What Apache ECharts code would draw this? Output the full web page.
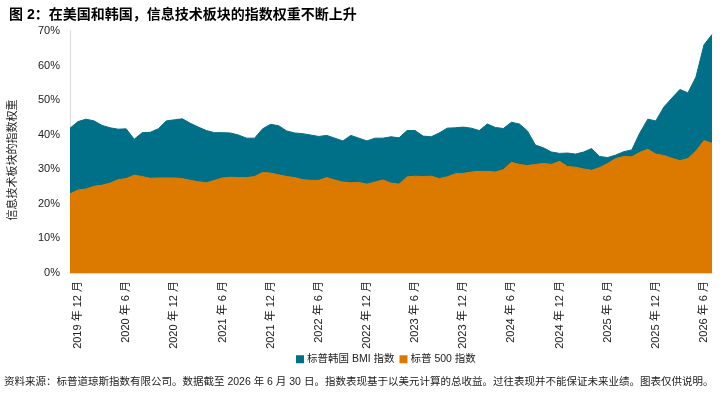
<!DOCTYPE html>
<html>
<head>
<meta charset="utf-8">
<script src="https://cdn.jsdelivr.net/npm/echarts@6/dist/echarts.min.js"></script>
<style>
  html, body { margin: 0; padding: 0; background: #fff; }
  #chart { width: 728px; height: 399px; }
</style>
</head>
<body>
<div id="chart"></div>
<script>
// monthly points, Nov 2019 .. Jul 2026
var startYear = 2019, startMonth = 11, pointCount = 81;
var months = [];
for (var i = 0; i < pointCount; i++) {
  var m = startMonth - 1 + i;
  months.push((startYear + Math.floor(m / 12)) + ' 年 ' + (m % 12 + 1) + ' 月');
}

var koreaBmi = [
  41.9, 43.8, 44.5, 44.0, 42.7, 42.0, 41.6, 41.7, 38.7, 40.6,
  40.7, 41.7, 44.0, 44.3, 44.6, 43.3, 42.2, 41.2, 40.6, 40.6,
  40.5, 39.9, 39.0, 39.0, 41.7, 43.0, 42.6, 41.1, 40.5, 40.3,
  39.9, 39.5, 39.8, 39.0, 38.2, 39.8, 39.0, 38.2, 39.0, 39.0,
  39.4, 39.1, 41.2, 41.2, 39.6, 39.4, 40.5, 41.9, 42.0, 42.2,
  41.9, 41.2, 43.1, 42.1, 41.8, 43.6, 43.1, 41.1, 37.0, 36.2,
  35.0, 34.6, 34.7, 34.4, 35.0, 36.0, 33.7, 33.4, 34.1, 35.1,
  35.6, 40.5, 44.5, 44.0, 48.0, 50.6, 53.1, 52.1, 56.7, 66.0,
  69.0
];

var sp500 = [
  22.9, 24.0, 24.3, 25.1, 25.4, 26.0, 27.0, 27.3, 28.3, 27.9,
  27.4, 27.5, 27.5, 27.5, 27.3, 26.8, 26.4, 26.1, 26.8, 27.5,
  27.7, 27.6, 27.6, 27.9, 29.1, 28.9, 28.4, 27.9, 27.6, 27.0,
  26.8, 26.8, 27.6, 26.9, 26.3, 26.1, 26.2, 25.7, 26.3, 26.9,
  26.0, 25.7, 27.8, 28.0, 27.9, 28.0, 27.3, 27.8, 28.7, 28.8,
  29.2, 29.4, 29.4, 29.2, 29.9, 32.0, 31.4, 31.1, 31.4, 31.7,
  31.4, 32.3, 30.8, 30.6, 30.1, 29.7, 30.5, 31.7, 33.1, 33.7,
  33.6, 34.9, 35.8, 34.4, 34.0, 33.2, 32.5, 33.1, 35.3, 38.3,
  37.5
];

var seriesNames = ['标普韩国 BMI 指数', '标普 500 指数'];
var colors = ['#006F88', '#DC7A00'];
var font = '"Liberation Sans", Arial, "Noto Sans CJK SC", sans-serif';

var chart = echarts.init(document.getElementById('chart'));

chart.setOption({
  animation: false,
  textStyle: { fontFamily: font },
  title: {
    text: '图 2：在美国和韩国，信息技术板块的指数权重不断上升',
    left: 4,
    top: 3,
    textStyle: { fontSize: 14, fontWeight: 'bold', color: '#000', fontFamily: font }
  },
  legend: {
    data: seriesNames,
    left: 291,
    top: 349,
    icon: 'rect',
    itemWidth: 8,
    itemHeight: 8,
    itemGap: 5,
    textStyle: { fontSize: 10.5, color: '#222', fontFamily: font, padding: [0, 0, 0, -2] }
  },
  graphic: [
    {
      type: 'text',
      left: 4,
      top: 377,
      style: {
        text: '资料来源：标普道琼斯指数有限公司。数据截至 2026 年 6 月 30 日。指数表现基于以美元计算的总收益。过往表现并不能保证未来业绩。图表仅供说明。',
        fontSize: 10.5,
        fill: '#222',
        fontFamily: font
      }
    },
    {
      // y axis title
      type: 'text',
      x: 13,
      y: 160,
      rotation: Math.PI / 2,
      style: {
        text: '信息技术板块的指数权重',
        fontSize: 11,
        fill: '#222',
        fontFamily: font,
        align: 'center',
        verticalAlign: 'middle'
      }
    }
  ],
  grid: {
    left: 70,
    right: 16,
    top: 31,
    bottom: 126
  },
  xAxis: {
    type: 'category',
    data: months,
    boundaryGap: false,
    axisLine: { lineStyle: { color: '#d9d9d9' } },
    axisTick: { show: false },
    axisLabel: {
      rotate: 90,
      margin: 8,
      fontSize: 11,
      color: '#222',
      interval: function (index) { return index % 6 === 1; }
    }
  },
  yAxis: {
    type: 'value',
    min: 0,
    max: 70,
    interval: 10,
    axisLine: { show: true, lineStyle: { color: '#d9d9d9' } },
    axisTick: { show: false },
    splitLine: { show: false },
    axisLabel: {
      fontSize: 11,
      color: '#222',
      margin: 10,
      formatter: '{value}%'
    }
  },
  series: [
    {
      name: seriesNames[0],
      type: 'line',
      data: koreaBmi,
      showSymbol: false,
      symbol: 'none',
      color: colors[0],
      lineStyle: { width: 1, color: colors[0] },
      areaStyle: { color: colors[0], opacity: 1 }
    },
    {
      name: seriesNames[1],
      type: 'line',
      data: sp500,
      showSymbol: false,
      symbol: 'none',
      color: colors[1],
      lineStyle: { width: 1, color: colors[1] },
      areaStyle: { color: colors[1], opacity: 1 }
    }
  ]
});
</script>
</body>
</html>
